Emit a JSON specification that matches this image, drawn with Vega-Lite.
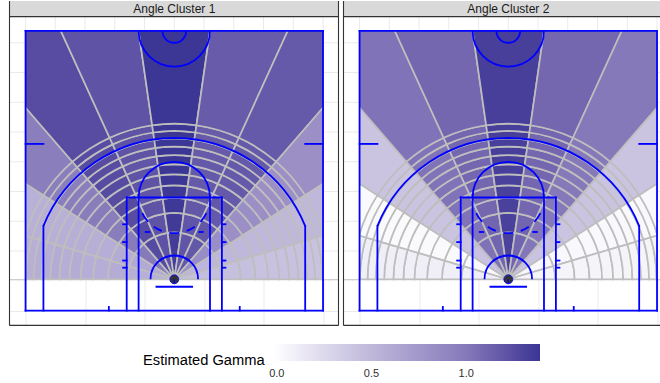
{
"$schema":"https://vega.github.io/schema/vega-lite/v6.json",
"padding":{"left":8.5,"top":0,"right":0,"bottom":0},
"background":"white",
"config":{"font":"Liberation Sans","view":{"stroke":null},"facet":{"spacing":3}},
"datasets":{
"panels":[{"p":1,"label":"Angle Cluster 1"},{"p":2,"label":"Angle Cluster 2"}],
"sectors":[{"s":1,"a0":-90,"a1":-73.64},{"s":2,"a0":-73.64,"a1":-57.27},{"s":3,"a0":-57.27,"a1":-40.91},{"s":4,"a0":-40.91,"a1":-24.55},{"s":5,"a0":-24.55,"a1":-8.18},{"s":6,"a0":-8.18,"a1":8.18},{"s":7,"a0":8.18,"a1":24.55},{"s":8,"a0":24.55,"a1":40.91},{"s":9,"a0":40.91,"a1":57.27},{"s":10,"a0":57.27,"a1":73.64},{"s":11,"a0":73.64,"a1":90}],
"rings":[{"k":1,"r0":0,"r1":7.88},{"k":2,"r0":7.88,"r1":11.15},{"k":3,"r0":11.15,"r1":13.66},{"k":4,"r0":13.66,"r1":15.77},{"k":5,"r0":15.77,"r1":17.63},{"k":6,"r0":17.63,"r1":19.31},{"k":7,"r0":19.31,"r1":20.86},{"k":8,"r0":20.86,"r1":22.3},{"k":9,"r0":22.3,"r1":23.66},{"k":10,"r0":23.66,"r1":24.93},{"k":11,"r0":24.93,"r1":26.15},{"k":12,"r0":26.15,"r1":52}],
"masks":[{"x":-27.7,"x2":-25,"y":5.25,"y2":49.4},{"x":25,"x2":27.6,"y":5.25,"y2":49.4},{"x":-27.7,"x2":27.6,"y":47,"y2":49.4}],
"gridm":[{"x":-25,"x2":-25,"y":47,"y2":49.4},{"x":-20,"x2":-20,"y":47,"y2":49.4},{"x":-15,"x2":-15,"y":47,"y2":49.4},{"x":-10,"x2":-10,"y":47,"y2":49.4},{"x":-5,"x2":-5,"y":47,"y2":49.4},{"x":0,"x2":0,"y":47,"y2":49.4},{"x":5,"x2":5,"y":47,"y2":49.4},{"x":10,"x2":10,"y":47,"y2":49.4},{"x":15,"x2":15,"y":47,"y2":49.4},{"x":20,"x2":20,"y":47,"y2":49.4},{"x":25,"x2":25,"y":47,"y2":49.4},
{"x":-27.7,"x2":-25,"y":10,"y2":10},{"x":-27.7,"x2":-25,"y":15,"y2":15},{"x":-27.7,"x2":-25,"y":20,"y2":20},{"x":-27.7,"x2":-25,"y":25,"y2":25},{"x":-27.7,"x2":-25,"y":30,"y2":30},{"x":-27.7,"x2":-25,"y":35,"y2":35},{"x":-27.7,"x2":-25,"y":40,"y2":40},{"x":-27.7,"x2":-25,"y":45,"y2":45},
{"x":25,"x2":27.6,"y":10,"y2":10},{"x":25,"x2":27.6,"y":15,"y2":15},{"x":25,"x2":27.6,"y":20,"y2":20},{"x":25,"x2":27.6,"y":25,"y2":25},{"x":25,"x2":27.6,"y":30,"y2":30},{"x":25,"x2":27.6,"y":35,"y2":35},{"x":25,"x2":27.6,"y":40,"y2":40},{"x":25,"x2":27.6,"y":45,"y2":45}],
"court":[{"x":-25,"x2":25,"y":0,"y2":0},{"x":-25,"x2":25,"y":47,"y2":47},{"x":-25,"x2":-25,"y":0,"y2":47},{"x":25,"x2":25,"y":0,"y2":47},{"x":-22,"x2":-22,"y":0,"y2":14.2},{"x":22,"x2":22,"y":0,"y2":14.2},{"x":-8,"x2":-8,"y":0,"y2":19},{"x":8,"x2":8,"y":0,"y2":19},{"x":-8,"x2":8,"y":19,"y2":19},{"x":-6,"x2":-6,"y":0,"y2":19},{"x":6,"x2":6,"y":0,"y2":19},{"x":-3,"x2":3,"y":4,"y2":4},{"x":-25,"x2":-22,"y":28,"y2":28},{"x":22,"x2":25,"y":28,"y2":28},{"x":-11,"x2":-11,"y":0,"y2":0.6},{"x":11,"x2":11,"y":0,"y2":0.6},{"x":-8.6,"x2":-8,"y":14.5,"y2":14.5},{"x":-8.6,"x2":-8,"y":11.5,"y2":11.5},{"x":-8.6,"x2":-8,"y":8.4,"y2":8.4},{"x":-8.6,"x2":-8,"y":7.2,"y2":7.2},{"x":8,"x2":8.6,"y":14.5,"y2":14.5},{"x":8,"x2":8.6,"y":11.5,"y2":11.5},{"x":8,"x2":8.6,"y":8.4,"y2":8.4},{"x":8,"x2":8.6,"y":7.2,"y2":7.2},{"x":-4.8,"x2":-4.2,"y":13.2,"y2":13.2},{"x":4.2,"x2":4.8,"y":13.2,"y2":13.2}],
"courtarcs":[{"cx":0,"cy":5.25,"r":23.75,"t0":-67.9,"t1":67.9},{"cx":0,"cy":19,"r":6,"t0":-90,"t1":90},{"cx":0,"cy":19,"r":6,"t0":-133,"t1":-116},{"cx":0,"cy":19,"r":6,"t0":-159.5,"t1":-145},{"cx":0,"cy":19,"r":6,"t0":172,"t1":188},{"cx":0,"cy":19,"r":6,"t0":116,"t1":133},{"cx":0,"cy":19,"r":6,"t0":145,"t1":159.5},{"cx":0,"cy":5.25,"r":4,"t0":-90,"t1":90},{"cx":0,"cy":47,"r":6,"t0":90,"t1":270},{"cx":0,"cy":47,"r":2,"t0":90,"t1":270}],
"hoop":[{"cx":0,"cy":5.25,"r":0.75,"t0":-180,"t1":180}],
"frame":[{"x":-27.7,"x2":-27.7,"y":-2.5,"y2":52.02},{"x":27.6,"x2":27.6,"y":-2.5,"y2":52.02},{"x":-27.7,"x2":27.6,"y":-2.5,"y2":-2.5},{"x":-27.7,"x2":27.6,"y":49.4,"y2":49.4}],
"strip":[{"x":-27.7,"x2":27.6,"y":49.4,"y2":52.02}]
},
"data":{"values":[
{"p":1,"s":1,"k":1,"g":0.57},{"p":1,"s":1,"k":2,"g":0.59},{"p":1,"s":1,"k":3,"g":0.58},{"p":1,"s":1,"k":4,"g":0.58},{"p":1,"s":1,"k":5,"g":0.59},{"p":1,"s":1,"k":6,"g":0.58},{"p":1,"s":1,"k":7,"g":0.59},{"p":1,"s":1,"k":8,"g":0.58},{"p":1,"s":1,"k":9,"g":0.58},{"p":1,"s":1,"k":10,"g":0.57},{"p":1,"s":1,"k":11,"g":0.57},{"p":1,"s":1,"k":12,"g":0.56},
{"p":1,"s":2,"k":1,"g":0.61},{"p":1,"s":2,"k":2,"g":0.59},{"p":1,"s":2,"k":3,"g":0.58},{"p":1,"s":2,"k":4,"g":0.57},{"p":1,"s":2,"k":5,"g":0.58},{"p":1,"s":2,"k":6,"g":0.57},{"p":1,"s":2,"k":7,"g":0.57},{"p":1,"s":2,"k":8,"g":0.56},{"p":1,"s":2,"k":9,"g":0.57},{"p":1,"s":2,"k":10,"g":0.56},{"p":1,"s":2,"k":11,"g":0.56},{"p":1,"s":2,"k":12,"g":0.55},
{"p":1,"s":3,"k":1,"g":0.99},{"p":1,"s":3,"k":2,"g":0.98},{"p":1,"s":3,"k":3,"g":0.97},{"p":1,"s":3,"k":4,"g":0.97},{"p":1,"s":3,"k":5,"g":0.98},{"p":1,"s":3,"k":6,"g":0.97},{"p":1,"s":3,"k":7,"g":0.96},{"p":1,"s":3,"k":8,"g":0.97},{"p":1,"s":3,"k":9,"g":0.96},{"p":1,"s":3,"k":10,"g":0.96},{"p":1,"s":3,"k":11,"g":0.96},{"p":1,"s":3,"k":12,"g":0.96},
{"p":1,"s":4,"k":1,"g":1.26},{"p":1,"s":4,"k":2,"g":1.25},{"p":1,"s":4,"k":3,"g":1.25},{"p":1,"s":4,"k":4,"g":1.26},{"p":1,"s":4,"k":5,"g":1.25},{"p":1,"s":4,"k":6,"g":1.26},{"p":1,"s":4,"k":7,"g":1.25},{"p":1,"s":4,"k":8,"g":1.25},{"p":1,"s":4,"k":9,"g":1.25},{"p":1,"s":4,"k":10,"g":1.25},{"p":1,"s":4,"k":11,"g":1.25},{"p":1,"s":4,"k":12,"g":1.25},
{"p":1,"s":5,"k":1,"g":1.22},{"p":1,"s":5,"k":2,"g":1.21},{"p":1,"s":5,"k":3,"g":1.21},{"p":1,"s":5,"k":4,"g":1.2},{"p":1,"s":5,"k":5,"g":1.21},{"p":1,"s":5,"k":6,"g":1.21},{"p":1,"s":5,"k":7,"g":1.2},{"p":1,"s":5,"k":8,"g":1.21},{"p":1,"s":5,"k":9,"g":1.21},{"p":1,"s":5,"k":10,"g":1.21},{"p":1,"s":5,"k":11,"g":1.21},{"p":1,"s":5,"k":12,"g":1.21},
{"p":1,"s":6,"k":1,"g":1.35},{"p":1,"s":6,"k":2,"g":1.36},{"p":1,"s":6,"k":3,"g":1.37},{"p":1,"s":6,"k":4,"g":1.37},{"p":1,"s":6,"k":5,"g":1.38},{"p":1,"s":6,"k":6,"g":1.38},{"p":1,"s":6,"k":7,"g":1.38},{"p":1,"s":6,"k":8,"g":1.38},{"p":1,"s":6,"k":9,"g":1.38},{"p":1,"s":6,"k":10,"g":1.38},{"p":1,"s":6,"k":11,"g":1.38},{"p":1,"s":6,"k":12,"g":1.38},
{"p":1,"s":7,"k":1,"g":1.2},{"p":1,"s":7,"k":2,"g":1.2},{"p":1,"s":7,"k":3,"g":1.19},{"p":1,"s":7,"k":4,"g":1.19},{"p":1,"s":7,"k":5,"g":1.18},{"p":1,"s":7,"k":6,"g":1.18},{"p":1,"s":7,"k":7,"g":1.18},{"p":1,"s":7,"k":8,"g":1.17},{"p":1,"s":7,"k":9,"g":1.17},{"p":1,"s":7,"k":10,"g":1.17},{"p":1,"s":7,"k":11,"g":1.16},{"p":1,"s":7,"k":12,"g":1.16},
{"p":1,"s":8,"k":1,"g":1.19},{"p":1,"s":8,"k":2,"g":1.19},{"p":1,"s":8,"k":3,"g":1.18},{"p":1,"s":8,"k":4,"g":1.19},{"p":1,"s":8,"k":5,"g":1.18},{"p":1,"s":8,"k":6,"g":1.18},{"p":1,"s":8,"k":7,"g":1.18},{"p":1,"s":8,"k":8,"g":1.18},{"p":1,"s":8,"k":9,"g":1.18},{"p":1,"s":8,"k":10,"g":1.18},{"p":1,"s":8,"k":11,"g":1.18},{"p":1,"s":8,"k":12,"g":1.18},
{"p":1,"s":9,"k":1,"g":0.84},{"p":1,"s":9,"k":2,"g":0.83},{"p":1,"s":9,"k":3,"g":0.82},{"p":1,"s":9,"k":4,"g":0.82},{"p":1,"s":9,"k":5,"g":0.83},{"p":1,"s":9,"k":6,"g":0.82},{"p":1,"s":9,"k":7,"g":0.82},{"p":1,"s":9,"k":8,"g":0.82},{"p":1,"s":9,"k":9,"g":0.82},{"p":1,"s":9,"k":10,"g":0.81},{"p":1,"s":9,"k":11,"g":0.82},{"p":1,"s":9,"k":12,"g":0.82},
{"p":1,"s":10,"k":1,"g":0.52},{"p":1,"s":10,"k":2,"g":0.51},{"p":1,"s":10,"k":3,"g":0.5},{"p":1,"s":10,"k":4,"g":0.5},{"p":1,"s":10,"k":5,"g":0.5},{"p":1,"s":10,"k":6,"g":0.5},{"p":1,"s":10,"k":7,"g":0.5},{"p":1,"s":10,"k":8,"g":0.5},{"p":1,"s":10,"k":9,"g":0.49},{"p":1,"s":10,"k":10,"g":0.5},{"p":1,"s":10,"k":11,"g":0.5},{"p":1,"s":10,"k":12,"g":0.5},
{"p":1,"s":11,"k":1,"g":0.45},{"p":1,"s":11,"k":2,"g":0.44},{"p":1,"s":11,"k":3,"g":0.44},{"p":1,"s":11,"k":4,"g":0.43},{"p":1,"s":11,"k":5,"g":0.43},{"p":1,"s":11,"k":6,"g":0.43},{"p":1,"s":11,"k":7,"g":0.43},{"p":1,"s":11,"k":8,"g":0.43},{"p":1,"s":11,"k":9,"g":0.42},{"p":1,"s":11,"k":10,"g":0.42},{"p":1,"s":11,"k":11,"g":0.42},{"p":1,"s":11,"k":12,"g":0.42},
{"p":2,"s":1,"k":1,"g":0.1},{"p":2,"s":1,"k":2,"g":0.1},{"p":2,"s":1,"k":3,"g":0.1},{"p":2,"s":1,"k":4,"g":0.1},{"p":2,"s":1,"k":5,"g":0.1},{"p":2,"s":1,"k":6,"g":0.1},{"p":2,"s":1,"k":7,"g":0.1},{"p":2,"s":1,"k":8,"g":0.1},{"p":2,"s":1,"k":9,"g":0.1},{"p":2,"s":1,"k":10,"g":0.1},{"p":2,"s":1,"k":11,"g":0.1},{"p":2,"s":1,"k":12,"g":0.1},
{"p":2,"s":2,"k":1,"g":0.03},{"p":2,"s":2,"k":2,"g":0.02},{"p":2,"s":2,"k":3,"g":0.02},{"p":2,"s":2,"k":4,"g":0.02},{"p":2,"s":2,"k":5,"g":0.02},{"p":2,"s":2,"k":6,"g":0.02},{"p":2,"s":2,"k":7,"g":0.02},{"p":2,"s":2,"k":8,"g":0.02},{"p":2,"s":2,"k":9,"g":0.02},{"p":2,"s":2,"k":10,"g":0.02},{"p":2,"s":2,"k":11,"g":0.02},{"p":2,"s":2,"k":12,"g":0.02},
{"p":2,"s":3,"k":1,"g":0.42},{"p":2,"s":3,"k":2,"g":0.41},{"p":2,"s":3,"k":3,"g":0.41},{"p":2,"s":3,"k":4,"g":0.41},{"p":2,"s":3,"k":5,"g":0.41},{"p":2,"s":3,"k":6,"g":0.41},{"p":2,"s":3,"k":7,"g":0.41},{"p":2,"s":3,"k":8,"g":0.41},{"p":2,"s":3,"k":9,"g":0.41},{"p":2,"s":3,"k":10,"g":0.41},{"p":2,"s":3,"k":11,"g":0.41},{"p":2,"s":3,"k":12,"g":0.41},
{"p":2,"s":4,"k":1,"g":1.04},{"p":2,"s":4,"k":2,"g":1.03},{"p":2,"s":4,"k":3,"g":1.03},{"p":2,"s":4,"k":4,"g":1.03},{"p":2,"s":4,"k":5,"g":1.03},{"p":2,"s":4,"k":6,"g":1.03},{"p":2,"s":4,"k":7,"g":1.03},{"p":2,"s":4,"k":8,"g":1.03},{"p":2,"s":4,"k":9,"g":1.03},{"p":2,"s":4,"k":10,"g":1.03},{"p":2,"s":4,"k":11,"g":1.03},{"p":2,"s":4,"k":12,"g":1.03},
{"p":2,"s":5,"k":1,"g":1.11},{"p":2,"s":5,"k":2,"g":1.11},{"p":2,"s":5,"k":3,"g":1.1},{"p":2,"s":5,"k":4,"g":1.1},{"p":2,"s":5,"k":5,"g":1.1},{"p":2,"s":5,"k":6,"g":1.1},{"p":2,"s":5,"k":7,"g":1.1},{"p":2,"s":5,"k":8,"g":1.1},{"p":2,"s":5,"k":9,"g":1.1},{"p":2,"s":5,"k":10,"g":1.1},{"p":2,"s":5,"k":11,"g":1.1},{"p":2,"s":5,"k":12,"g":1.1},
{"p":2,"s":6,"k":1,"g":1.32},{"p":2,"s":6,"k":2,"g":1.32},{"p":2,"s":6,"k":3,"g":1.32},{"p":2,"s":6,"k":4,"g":1.32},{"p":2,"s":6,"k":5,"g":1.32},{"p":2,"s":6,"k":6,"g":1.33},{"p":2,"s":6,"k":7,"g":1.33},{"p":2,"s":6,"k":8,"g":1.33},{"p":2,"s":6,"k":9,"g":1.33},{"p":2,"s":6,"k":10,"g":1.33},{"p":2,"s":6,"k":11,"g":1.33},{"p":2,"s":6,"k":12,"g":1.33},
{"p":2,"s":7,"k":1,"g":1.11},{"p":2,"s":7,"k":2,"g":1.11},{"p":2,"s":7,"k":3,"g":1.1},{"p":2,"s":7,"k":4,"g":1.1},{"p":2,"s":7,"k":5,"g":1.1},{"p":2,"s":7,"k":6,"g":1.1},{"p":2,"s":7,"k":7,"g":1.1},{"p":2,"s":7,"k":8,"g":1.1},{"p":2,"s":7,"k":9,"g":1.1},{"p":2,"s":7,"k":10,"g":1.1},{"p":2,"s":7,"k":11,"g":1.1},{"p":2,"s":7,"k":12,"g":1.1},
{"p":2,"s":8,"k":1,"g":1.01},{"p":2,"s":8,"k":2,"g":1.01},{"p":2,"s":8,"k":3,"g":1.0},{"p":2,"s":8,"k":4,"g":1.0},{"p":2,"s":8,"k":5,"g":1.0},{"p":2,"s":8,"k":6,"g":1.0},{"p":2,"s":8,"k":7,"g":1.0},{"p":2,"s":8,"k":8,"g":1.0},{"p":2,"s":8,"k":9,"g":1.0},{"p":2,"s":8,"k":10,"g":1.0},{"p":2,"s":8,"k":11,"g":1.0},{"p":2,"s":8,"k":12,"g":1.0},
{"p":2,"s":9,"k":1,"g":0.42},{"p":2,"s":9,"k":2,"g":0.41},{"p":2,"s":9,"k":3,"g":0.41},{"p":2,"s":9,"k":4,"g":0.41},{"p":2,"s":9,"k":5,"g":0.41},{"p":2,"s":9,"k":6,"g":0.41},{"p":2,"s":9,"k":7,"g":0.41},{"p":2,"s":9,"k":8,"g":0.41},{"p":2,"s":9,"k":9,"g":0.41},{"p":2,"s":9,"k":10,"g":0.41},{"p":2,"s":9,"k":11,"g":0.41},{"p":2,"s":9,"k":12,"g":0.41},
{"p":2,"s":10,"k":1,"g":0.04},{"p":2,"s":10,"k":2,"g":0.03},{"p":2,"s":10,"k":3,"g":0.03},{"p":2,"s":10,"k":4,"g":0.03},{"p":2,"s":10,"k":5,"g":0.03},{"p":2,"s":10,"k":6,"g":0.03},{"p":2,"s":10,"k":7,"g":0.03},{"p":2,"s":10,"k":8,"g":0.03},{"p":2,"s":10,"k":9,"g":0.03},{"p":2,"s":10,"k":10,"g":0.03},{"p":2,"s":10,"k":11,"g":0.03},{"p":2,"s":10,"k":12,"g":0.03},
{"p":2,"s":11,"k":1,"g":0.06},{"p":2,"s":11,"k":2,"g":0.06},{"p":2,"s":11,"k":3,"g":0.06},{"p":2,"s":11,"k":4,"g":0.06},{"p":2,"s":11,"k":5,"g":0.06},{"p":2,"s":11,"k":6,"g":0.06},{"p":2,"s":11,"k":7,"g":0.06},{"p":2,"s":11,"k":8,"g":0.06},{"p":2,"s":11,"k":9,"g":0.06},{"p":2,"s":11,"k":10,"g":0.06},{"p":2,"s":11,"k":11,"g":0.06},{"p":2,"s":11,"k":12,"g":0.06}
]},
"transform":[{"lookup":"s","from":{"data":{"name":"sectors"},"key":"s","fields":["a0","a1"]}},{"lookup":"k","from":{"data":{"name":"rings"},"key":"k","fields":["r0","r1"]}},{"lookup":"p","from":{"data":{"name":"panels"},"key":"p","fields":["label"]}}],
"facet":{"column":{"field":"p","type":"ordinal","header":null}},
"spec":{
"width":329,"height":325,
"layer":[
{"mark":{"type":"arc","clip":true,"stroke":"#bebebe","strokeWidth":1.7},
"encoding":{
"x":{"datum":0,"type":"quantitative","scale":{"domain":[-27.7,27.6],"nice":false,"zero":false},"axis":{"values":[-25,-20,-15,-10,-5,0,5,10,15,20,25],"labels":false,"ticks":false,"domain":false,"title":null,"grid":true,"gridColor":"#ebebeb","gridWidth":1}},
"y":{"datum":5.25,"type":"quantitative","scale":{"domain":[-2.6,52.02],"nice":false,"zero":false},"axis":{"values":[0,5,10,15,20,25,30,35,40,45],"labels":false,"ticks":false,"domain":false,"title":null,"grid":true,"gridColor":"#ebebeb","gridWidth":1}},
"theta":{"field":"a0","type":"quantitative","scale":{"domain":[-180,180],"range":[-3.14159265,3.14159265]}},
"theta2":{"field":"a1"},
"radius":{"field":"r0","type":"quantitative","scale":{"domain":[0,50],"range":[0,297.5],"zero":true}},
"radius2":{"field":"r1"},
"color":{"field":"g","type":"quantitative","scale":{"domain":[-0.02,0.5,1,1.39],"range":["#ffffff","#bfb8db","#8679ba","#3a3594"],"interpolate":"lab"},
"legend":{"orient":"none","legendX":133.5,"legendY":343,"direction":"horizontal","title":"Estimated Gamma","titleOrient":"left","titleFontSize":14.7,"titleFontWeight":"normal","titleColor":"#000000","titlePadding":8,"titleAnchor":"end","titleBaseline":"middle","labelFontSize":11,"labelColor":"#303030","labelOffset":7,"gradientLength":267,"gradientThickness":17,"values":[0,0.5,1],"format":".1f","labelOverlap":false}}
}},
{"data":{"name":"masks"},"mark":{"type":"rect","fill":"white"},"encoding":{"x":{"field":"x","type":"quantitative"},"x2":{"field":"x2"},"y":{"field":"y","type":"quantitative"},"y2":{"field":"y2"}}},
{"data":{"name":"gridm"},"mark":{"type":"rule","stroke":"#ebebeb","strokeWidth":1},"encoding":{"x":{"field":"x","type":"quantitative"},"x2":{"field":"x2"},"y":{"field":"y","type":"quantitative"},"y2":{"field":"y2"}}},
{"data":{"name":"court"},"mark":{"type":"rule","stroke":"#0000ff","strokeWidth":1.8,"strokeCap":"square"},"encoding":{"x":{"field":"x","type":"quantitative"},"x2":{"field":"x2"},"y":{"field":"y","type":"quantitative"},"y2":{"field":"y2"}}},
{"data":{"name":"courtarcs"},"mark":{"type":"arc","fill":null,"stroke":"#0000ff","strokeWidth":1.8},"encoding":{"x":{"field":"cx","type":"quantitative"},"y":{"field":"cy","type":"quantitative"},"theta":{"field":"t0","type":"quantitative"},"theta2":{"field":"t1"},"radius":{"field":"r","type":"quantitative"},"radius2":{"field":"r"}}},
{"data":{"name":"hoop"},"mark":{"type":"arc","fill":"#333333","stroke":"#0000ff","strokeWidth":0.8},"encoding":{"x":{"field":"cx","type":"quantitative"},"y":{"field":"cy","type":"quantitative"},"theta":{"field":"t0","type":"quantitative"},"theta2":{"field":"t1"},"radius":{"field":"r","type":"quantitative"}}},
{"data":{"name":"strip"},"mark":{"type":"rect","fill":"#d9d9d9"},"encoding":{"x":{"field":"x","type":"quantitative"},"x2":{"field":"x2"},"y":{"field":"y","type":"quantitative"},"y2":{"field":"y2"}}},
{"data":{"name":"frame"},"mark":{"type":"rule","stroke":"#333333","strokeWidth":1.1},"encoding":{"x":{"field":"x","type":"quantitative"},"x2":{"field":"x2"},"y":{"field":"y","type":"quantitative"},"y2":{"field":"y2"}}},
{"transform":[{"aggregate":[],"groupby":["label"]}],
"mark":{"type":"text","fontSize":12,"color":"#1a1a1a","baseline":"middle","align":"center"},
"encoding":{"x":{"datum":0,"type":"quantitative"},"y":{"datum":50.75,"type":"quantitative"},"text":{"field":"label"}}}
]
}
}
